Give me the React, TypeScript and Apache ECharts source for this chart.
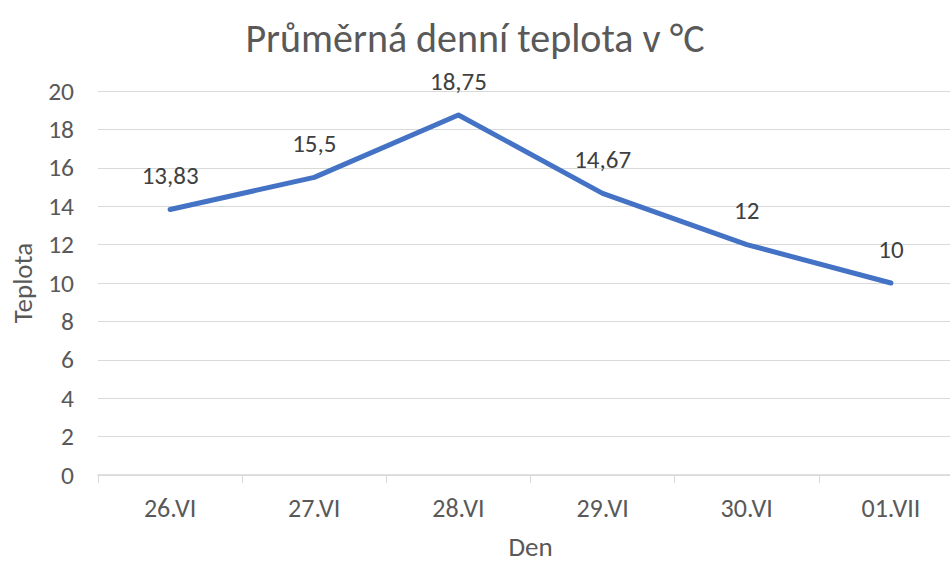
import React, { useEffect, useRef } from "react";
import * as echarts from "echarts";

const categories = ["26.VI", "27.VI", "28.VI", "29.VI", "30.VI", "01.VII"];
const values = [13.83, 15.5, 18.75, 14.67, 12, 10];
const valueLabels = ["13,83", "15,5", "18,75", "14,67", "12", "10"];

const FONT = "Carlito, Calibri, 'Liberation Sans Narrow', 'Open Sans', sans-serif";
const GREY = "#595959";

export default function App() {
  const ref = useRef<HTMLDivElement>(null);
  useEffect(() => {
    if (!ref.current) return;
    const chart = echarts.init(ref.current, null, { renderer: "svg" });
    chart.setOption({
      animation: false,
      backgroundColor: "#ffffff",
      title: {
        text: "Průměrná denní teplota v °C",
        left: "center",
        top: 13,
        textStyle: { fontFamily: FONT, fontSize: 40, fontWeight: "normal", color: GREY },
      },
      grid: { left: 98, right: -13, top: 91, bottom: 87, outerBoundsMode: "none", containLabel: false },
      xAxis: {
        type: "category",
        data: categories,
        boundaryGap: true,
        name: "Den",
        nameLocation: "middle",
        nameGap: 58,
        nameTextStyle: { fontFamily: FONT, fontSize: 27, color: GREY },
        axisLine: { lineStyle: { color: "#d9d9d9", width: 1.5 } },
        axisTick: { show: true, length: 8, lineStyle: { color: "#d9d9d9" } },
        axisLabel: { fontFamily: FONT, fontSize: 26, color: GREY, margin: 20 },
      },
      yAxis: {
        type: "value",
        min: 0,
        max: 20,
        interval: 2,
        name: "Teplota",
        nameLocation: "middle",
        nameGap: 62,
        nameRotate: 90,
        nameTextStyle: { fontFamily: FONT, fontSize: 27, color: GREY },
        axisLine: { show: false },
        axisTick: { show: false },
        axisLabel: { fontFamily: FONT, fontSize: 25.5, color: GREY, margin: 24 },
        splitLine: { lineStyle: { color: "#d9d9d9", width: 1 } },
      },
      series: [
        {
          type: "line",
          data: values,
          showSymbol: true,
          symbol: "circle",
          symbolSize: 1,
          itemStyle: { color: "#4472C4" },
          lineStyle: { color: "#4472C4", width: 5, cap: "round", join: "round" },
          label: {
            show: true,
            position: "top",
            distance: 21,
            fontFamily: FONT,
            fontSize: 25,
            color: "#404040",
            formatter: (p: any) => valueLabels[p.dataIndex],
          },
        },
      ],
    });
    return () => chart.dispose();
  }, []);
  return <div ref={ref} style={{ width: 950, height: 562, position: "absolute", left: 0, top: 0 }} />;
}
